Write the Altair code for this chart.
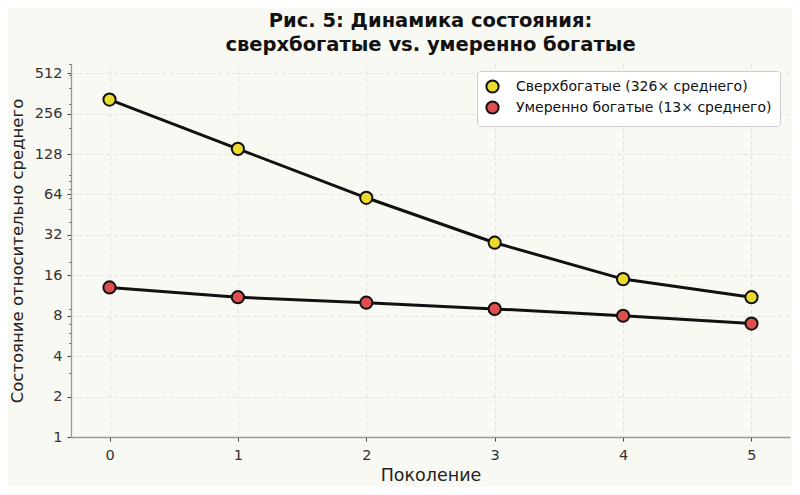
import altair as alt
import pandas as pd

generations = [0, 1, 2, 3, 4, 5]
ultra_rich = [326, 140, 60.5, 28, 15, 11]
moderate_rich = [13, 11, 10, 9, 8, 7]
series_names = ["Сверхбогатые (326× среднего)", "Умеренно богатые (13× среднего)"]
series_colors = ["#ecdb2c", "#e04e4e"]
y_major = [1, 2, 4, 8, 16, 32, 64, 128, 256, 512]
y_minor = [3, 5, 6, 7, 9, 20, 30, 40, 50, 60, 70, 80, 90, 200, 300, 400, 500, 600]

rows = []
for g, v in zip(generations, ultra_rich):
    rows.append({"gen": g, "val": v, "series": series_names[0]})
for g, v in zip(generations, moderate_rich):
    rows.append({"gen": g, "val": v, "series": series_names[1]})
df = pd.DataFrame(rows)

FONT = "DejaVu Sans"

x_enc = alt.X(
    "gen:Q",
    scale=alt.Scale(domain=[-0.3, 5.3], nice=False, zero=False),
    axis=alt.Axis(
        values=generations, format="d", title="Поколение",
        titleFontSize=17.5, titleFont=FONT, titleFontWeight="normal", titleColor="#222",
        titlePadding=5,
        labelFontSize=14.5, labelFont=FONT, labelColor="#333", labelPadding=7,
        tickSize=4, tickColor="#444", domainColor="#999", domainWidth=1.3,
        grid=True, gridColor="#dcdcdc", gridDash=[4, 3], gridWidth=0.8,
    ),
)

y_scale = alt.Scale(type="log", base=2, domain=[1, 600], nice=False)

y_major_axis = alt.Axis(
    values=y_major, format="d", title="Состояние относительно среднего", orient="left",
    titleFontSize=16.5, titleFont=FONT, titleFontWeight="normal", titleColor="#222",
    titlePadding=9,
    labelFontSize=14.5, labelFont=FONT, labelColor="#333", labelPadding=5,
    tickSize=4, tickColor="#444", domainColor="#999", domainWidth=1.3,
    grid=True, gridColor="#dcdcdc", gridDash=[4, 3], gridWidth=0.8,
)

y_minor_axis = alt.Axis(
    values=y_minor, labels=False, title=None, orient="left",
    tickSize=2, tickColor="#444", domain=False, grid=False,
)

lines = alt.Chart(df).mark_line(color="#111", strokeWidth=3).encode(
    x=x_enc,
    y=alt.Y("val:Q", scale=y_scale, axis=y_minor_axis),
    detail="series:N",
)

points = alt.Chart(df).mark_point(
    filled=True, size=150, stroke="#111", strokeWidth=2, opacity=1
).encode(
    x=x_enc,
    y=alt.Y("val:Q", scale=y_scale, axis=y_major_axis),
    color=alt.Color(
        "series:N",
        scale=alt.Scale(domain=series_names, range=series_colors),
        legend=alt.Legend(
            title=None, orient="none", legendX=406, legendY=7,
            labelFont=FONT, labelFontSize=14, labelColor="#111", labelLimit=0,
            symbolType="circle", symbolSize=150, symbolStrokeColor="#111",
            symbolStrokeWidth=2,
            fillColor="white", strokeColor="#cccccc", cornerRadius=3,
            padding=8, rowPadding=0, labelOffset=16,
        ),
    ),
)

chart = alt.layer(lines, points).resolve_axis(y="independent").properties(
    width=719,
    height=373,
    title=alt.TitleParams(
        text=["Рис. 5: Динамика состояния:", "сверхбогатые vs. умеренно богатые"],
        font=FONT, fontSize=19.5, fontWeight="bold", color="#111",
        anchor="middle", lineHeight=24, offset=8,
    ),
    autosize=alt.AutoSizeParams(type="none"),
    padding={"left": 63, "top": 56, "right": 2, "bottom": 50},
    background="#f9f9f4",
).configure_view(stroke=None)

chart.save("out.html", embed_options={"renderer": "svg", "actions": False})
